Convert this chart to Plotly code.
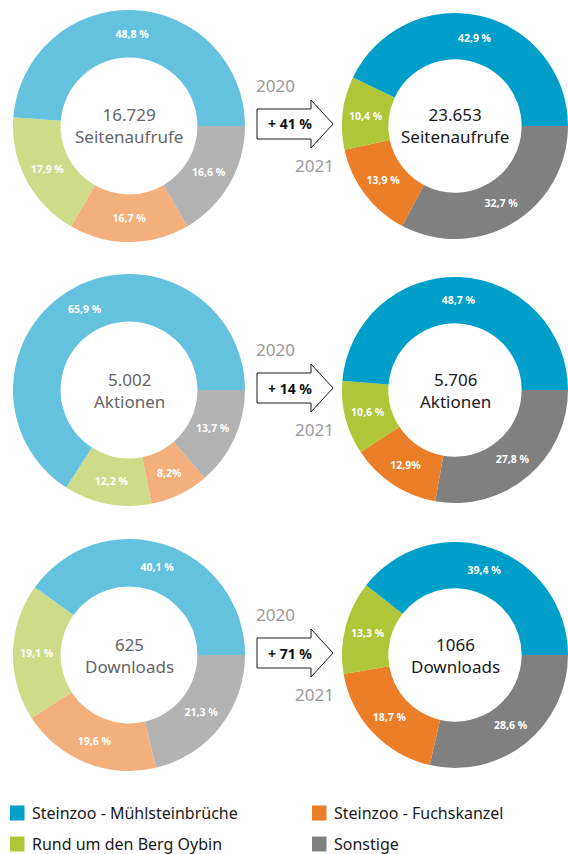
import plotly.graph_objects as go

W, H = 568, 854

categories = ["Steinzoo - Mühlsteinbrüche", "Rund um den Berg Oybin",
              "Steinzoo - Fuchskanzel", "Sonstige"]
colors_2020 = ["#64C2DF", "#CEDC8A", "#F3B07C", "#B3B3B3"]
colors_2021 = ["#009FC9", "#AEC637", "#EC7E28", "#808080"]

# shares per metric (order: Mühlsteinbrüche, Berg Oybin, Fuchskanzel, Sonstige)
views_2020 = [48.8, 17.9, 16.7, 16.6]
views_2021 = [42.9, 10.4, 13.9, 32.7]
actions_2020 = [65.9, 12.2, 8.2, 13.7]
actions_2021 = [48.7, 10.6, 12.9, 27.8]
downloads_2020 = [40.1, 19.1, 19.6, 21.3]
downloads_2021 = [39.4, 13.3, 18.7, 28.6]

views_2020_text = ["48,8 %", "17,9 %", "16,7 %", "16,6 %"]
views_2021_text = ["42,9 %", "10,4 %", "13,9 %", "32,7 %"]
actions_2020_text = ["65,9 %", "12,2 %", "8,2%", "13,7 %"]
actions_2021_text = ["48,7 %", "10,6 %", "12,9%", "27,8 %"]
downloads_2020_text = ["40,1 %", "19,1 %", "19,6 %", "21,3 %"]
downloads_2021_text = ["39,4 %", "13,3 %", "18,7 %", "28,6 %"]

totals_2020 = ["16.729", "5.002", "625"]
totals_2021 = ["23.653", "5.706", "1066"]
metric_names = ["Seitenaufrufe", "Aktionen", "Downloads"]
growth = ["+ 41 %", "+ 14 %", "+ 71 %"]
years = ["2020", "2021"]

rows = [
    (views_2020, views_2020_text, views_2021, views_2021_text),
    (actions_2020, actions_2020_text, actions_2021, actions_2021_text),
    (downloads_2020, downloads_2020_text, downloads_2021, downloads_2021_text),
]

# layout geometry (pixels)
row_cy = [126, 390, 655]
left_cx, left_r = 129, 116
right_cx, right_r = 455, 113
FONT = "Noto Sans"


def px(x):
    return x / W


def py(y):
    return 1 - y / H


fig = go.Figure()
annotations = []
shapes = []

for i, (v20, t20, v21, t21) in enumerate(rows):
    cy = row_cy[i]
    for (cx, r, vals, txt, cols, total, tcol) in [
        (left_cx, left_r, v20, t20, colors_2020, totals_2020[i], "#666666"),
        (right_cx, right_r, v21, t21, colors_2021, totals_2021[i], "#1a1a1a"),
    ]:
        # drawn clockwise from 3 o'clock in reverse order == counterclockwise order
        fig.add_trace(go.Pie(
            labels=categories[::-1], values=vals[::-1], text=txt[::-1],
            textinfo="text", texttemplate="%{text}",
            textposition="inside", insidetextorientation="horizontal",
            textfont=dict(family=FONT, size=10.5, color="white", weight=700),
            marker=dict(colors=cols[::-1], line=dict(width=0)),
            hole=0.59, sort=False, direction="clockwise", rotation=90,
            showlegend=False, hoverinfo="label+text",
            domain=dict(x=[px(cx - r), min(1, px(cx + r))],
                        y=[py(cy + r), py(cy - r)]),
        ))
        annotations.append(dict(
            x=px(cx), y=py(cy), xref="paper", yref="paper",
            text=f"{total}<br>{metric_names[i]}", showarrow=False,
            font=dict(family=FONT, size=17, color=tcol),
            xanchor="center", yanchor="middle", align="center"))

    # arrow
    ac = cy - 2
    path = (f"M {px(257)} {py(ac-15)} L {px(311)} {py(ac-15)} L {px(311)} {py(ac-24)} "
            f"L {px(333)} {py(ac)} L {px(311)} {py(ac+24)} L {px(311)} {py(ac+15)} "
            f"L {px(257)} {py(ac+15)} Z")
    shapes.append(dict(type="path", path=path, xref="paper", yref="paper",
                       line=dict(color="#1a1a1a", width=1), fillcolor="white"))
    annotations.append(dict(x=px(290), y=py(ac), xref="paper", yref="paper",
                            text=f"<b>{growth[i]}</b>", showarrow=False,
                            font=dict(family=FONT, size=14, color="#111111"),
                            xanchor="center", yanchor="middle"))
    annotations.append(dict(x=px(275), y=py(ac - 39), xref="paper", yref="paper",
                            text=years[0], showarrow=False,
                            font=dict(family=FONT, size=17, color="#9a9a9a"),
                            xanchor="center", yanchor="middle"))
    annotations.append(dict(x=px(314), y=py(ac + 41), xref="paper", yref="paper",
                            text=years[1], showarrow=False,
                            font=dict(family=FONT, size=17, color="#9a9a9a"),
                            xanchor="center", yanchor="middle"))

# legend (2 columns)
legend_pos = [(10, 813), (10, 844), (312, 813), (312, 844)]
legend_order = [0, 1, 2, 3]
for k, ci in enumerate(legend_order):
    lx, ly = legend_pos[k]
    shapes.append(dict(type="rect", xref="paper", yref="paper",
                       x0=px(lx), x1=px(lx + 14.5), y0=py(ly - 7.5), y1=py(ly + 7.5),
                       line=dict(width=0), fillcolor=colors_2021[ci]))
    annotations.append(dict(x=px(lx + 20), y=py(ly), xref="paper", yref="paper",
                            text=categories[ci], showarrow=False,
                            font=dict(family=FONT, size=16, color="#1a1a1a"),
                            xanchor="left", yanchor="middle"))

fig.update_layout(
    width=W, height=H,
    margin=dict(l=0, r=0, t=0, b=0),
    paper_bgcolor="white", plot_bgcolor="white",
    annotations=annotations, shapes=shapes,
    showlegend=False,
)

fig.write_html("out.html", config={"displayModeBar": False},
               post_script="document.body.style.margin='0';document.body.style.overflow='hidden';")
